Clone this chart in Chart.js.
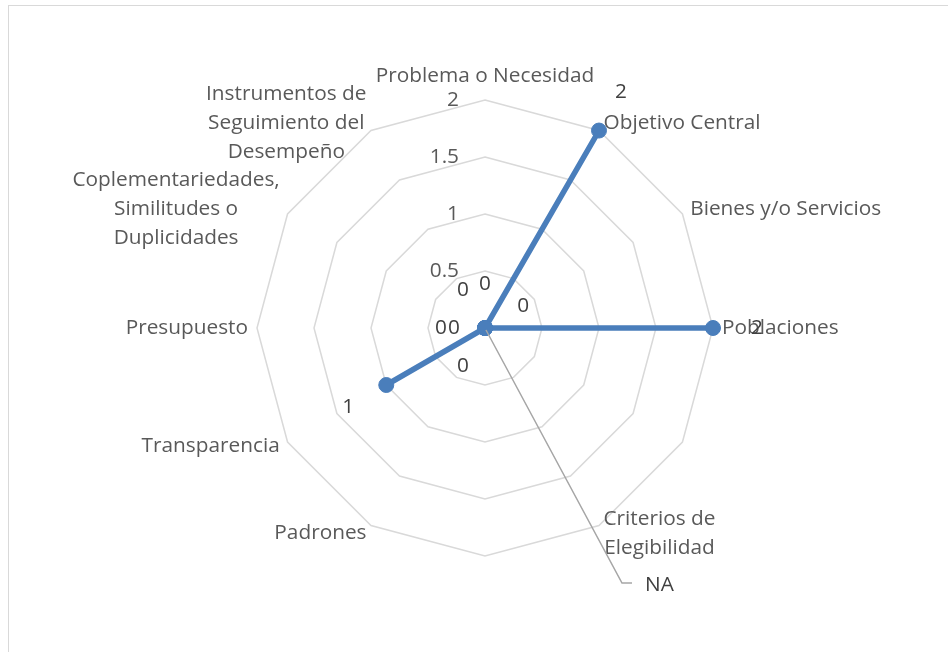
<!DOCTYPE html>
<html>
<head>
<meta charset="utf-8">
<script src="https://cdn.jsdelivr.net/npm/chart.js@4.4.1/dist/chart.umd.min.js"></script>
<style>
    html, body { margin: 0; padding: 0; background: #fff; }
    #wrap { width: 948px; height: 652px; position: relative; }
</style>
</head>
<body>
<div id="wrap"><canvas id="radar"></canvas></div>
<script>
// categorías del radar (12 ejes, dos sin nombre)
const categories = [
    'Problema o Necesidad',
    'Objetivo Central',
    'Bienes y/o Servicios',
    'Poblaciones',
    '',
    ['Criterios de', 'Elegibilidad'],
    '',
    'Padrones',
    'Transparencia',
    'Presupuesto',
    ['Coplementariedades,', 'Similitudes o', 'Duplicidades'],
    ['Instrumentos de', 'Seguimiento del', 'Desempeño']
];
const values = [0, 2, 0, 2, null, null, null, 0, 1, 0, 0, 0];
const valueLabels = ['0', '2', '0', '2', null, 'NA', null, '0', '1', '0', '0', '0'];
const tickValues = [0.5, 1, 1.5, 2];
const tickLabels = ['0.5', '1', '1.5', '2'];

const FONT = '20.8px "Open Sans"';
const LINE_H = 29;
const LABEL_PAD = 9;
const DATA_LABEL_DIST = 44;
// ajustes manuales de etiquetas (como en el original)
const labelShift = { 10: [7, 22] };
const naLeader = { dx: 137, dy: 255, tail: 10 };

const excelRadar = {
    id: 'excelRadar',
    beforeDraw(chart) {
        const ctx = chart.ctx;
        ctx.save();
        ctx.strokeStyle = '#d9d9d9';
        ctx.lineWidth = 1;
        ctx.strokeRect(8.5, 5.5, 2000, 2000);
        ctx.restore();
    },
    beforeDatasetsDraw(chart) {
        const scale = chart.scales.r;
        const ctx = chart.ctx;
        const n = chart.data.labels.length;
        ctx.save();
        ctx.font = FONT;
        ctx.fillStyle = '#595959';
        ctx.textBaseline = 'middle';

        // etiquetas de los ejes
        ctx.textAlign = 'center';
        chart.data.labels.forEach((label, i) => {
            const lines = [].concat(label).filter(s => s);
            if (!lines.length) return;
            const pos = scale.getPointPosition(i, scale.drawingArea + LABEL_PAD);
            const w = Math.max(...lines.map(s => ctx.measureText(s).width));
            const h = lines.length * LINE_H;
            const a = i * 2 * Math.PI / n;
            const s = Math.sin(a), c = Math.cos(a);
            let cx = pos.x, cy = pos.y;
            if (s > 0.01) cx += w / 2;
            else if (s < -0.01) cx -= w / 2;
            if (Math.abs(s) < 0.01) cy += (c > 0 ? -h / 2 : h / 2);
            lines.forEach((t, k) => {
                ctx.fillText(t, cx, cy - h / 2 + LINE_H * (k + 0.5));
            });
        });

        // valores del eje
        ctx.textAlign = 'right';
        tickValues.forEach((v, i) => {
            const y = scale.yCenter - scale.getDistanceFromCenterForValue(v);
            ctx.fillText(tickLabels[i], scale.xCenter - 26, y);
        });
        ctx.restore();
    },
    afterDatasetsDraw(chart) {
        const scale = chart.scales.r;
        const ctx = chart.ctx;
        const n = chart.data.labels.length;
        ctx.save();
        ctx.font = FONT;
        ctx.fillStyle = '#404040';
        ctx.textBaseline = 'middle';
        ctx.textAlign = 'center';
        valueLabels.forEach((txt, i) => {
            if (txt === null) return;
            const v = values[i] === null ? 0 : values[i];
            const p = scale.getPointPosition(i, scale.getDistanceFromCenterForValue(v));
            if (txt === 'NA') {
                const ex = p.x + naLeader.dx, ey = p.y + naLeader.dy;
                ctx.strokeStyle = '#a6a6a6';
                ctx.lineWidth = 1.5;
                ctx.beginPath();
                ctx.moveTo(p.x + 1, p.y + 2);
                ctx.lineTo(ex, ey);
                ctx.lineTo(ex + naLeader.tail, ey);
                ctx.stroke();
                ctx.textAlign = 'left';
                ctx.fillText(txt, ex + naLeader.tail + 13, ey + 2);
                ctx.textAlign = 'center';
                return;
            }
            const a = i * 2 * Math.PI / n;
            let x = p.x + DATA_LABEL_DIST * Math.sin(a);
            let y = p.y - DATA_LABEL_DIST * Math.cos(a);
            if (labelShift[i]) {
                x += labelShift[i][0];
                y += labelShift[i][1];
            }
            ctx.fillText(txt, x, y);
        });
        ctx.restore();
    }
};

const ctx = document.getElementById('radar').getContext('2d');
new Chart(ctx, {
    type: 'radar',
    data: {
        labels: categories,
        datasets: [{
            label: 'Serie 1',
            data: values,
            borderColor: '#4a7ebb',
            backgroundColor: '#4a7ebb',
            borderWidth: 5.5,
            fill: false,
            tension: 0,
            spanGaps: false,
            pointRadius: 7.5,
            pointBackgroundColor: '#4a7ebb',
            pointBorderColor: '#4a7ebb',
            pointBorderWidth: 1
        }]
    },
    options: {
        responsive: true,
        maintainAspectRatio: false,
        animation: false,
        layout: {
            padding: { top: 100, bottom: 96, left: 22, right: 0 }
        },
        plugins: {
            legend: { display: false },
            tooltip: { enabled: false }
        },
        scales: {
            r: {
                min: 0,
                max: 2,
                ticks: { stepSize: 0.5, display: false },
                grid: { color: '#d9d9d9', lineWidth: 1.5, circular: false },
                angleLines: { display: false },
                pointLabels: { display: false }
            }
        }
    },
    plugins: [excelRadar]
});
</script>
</body>
</html>
